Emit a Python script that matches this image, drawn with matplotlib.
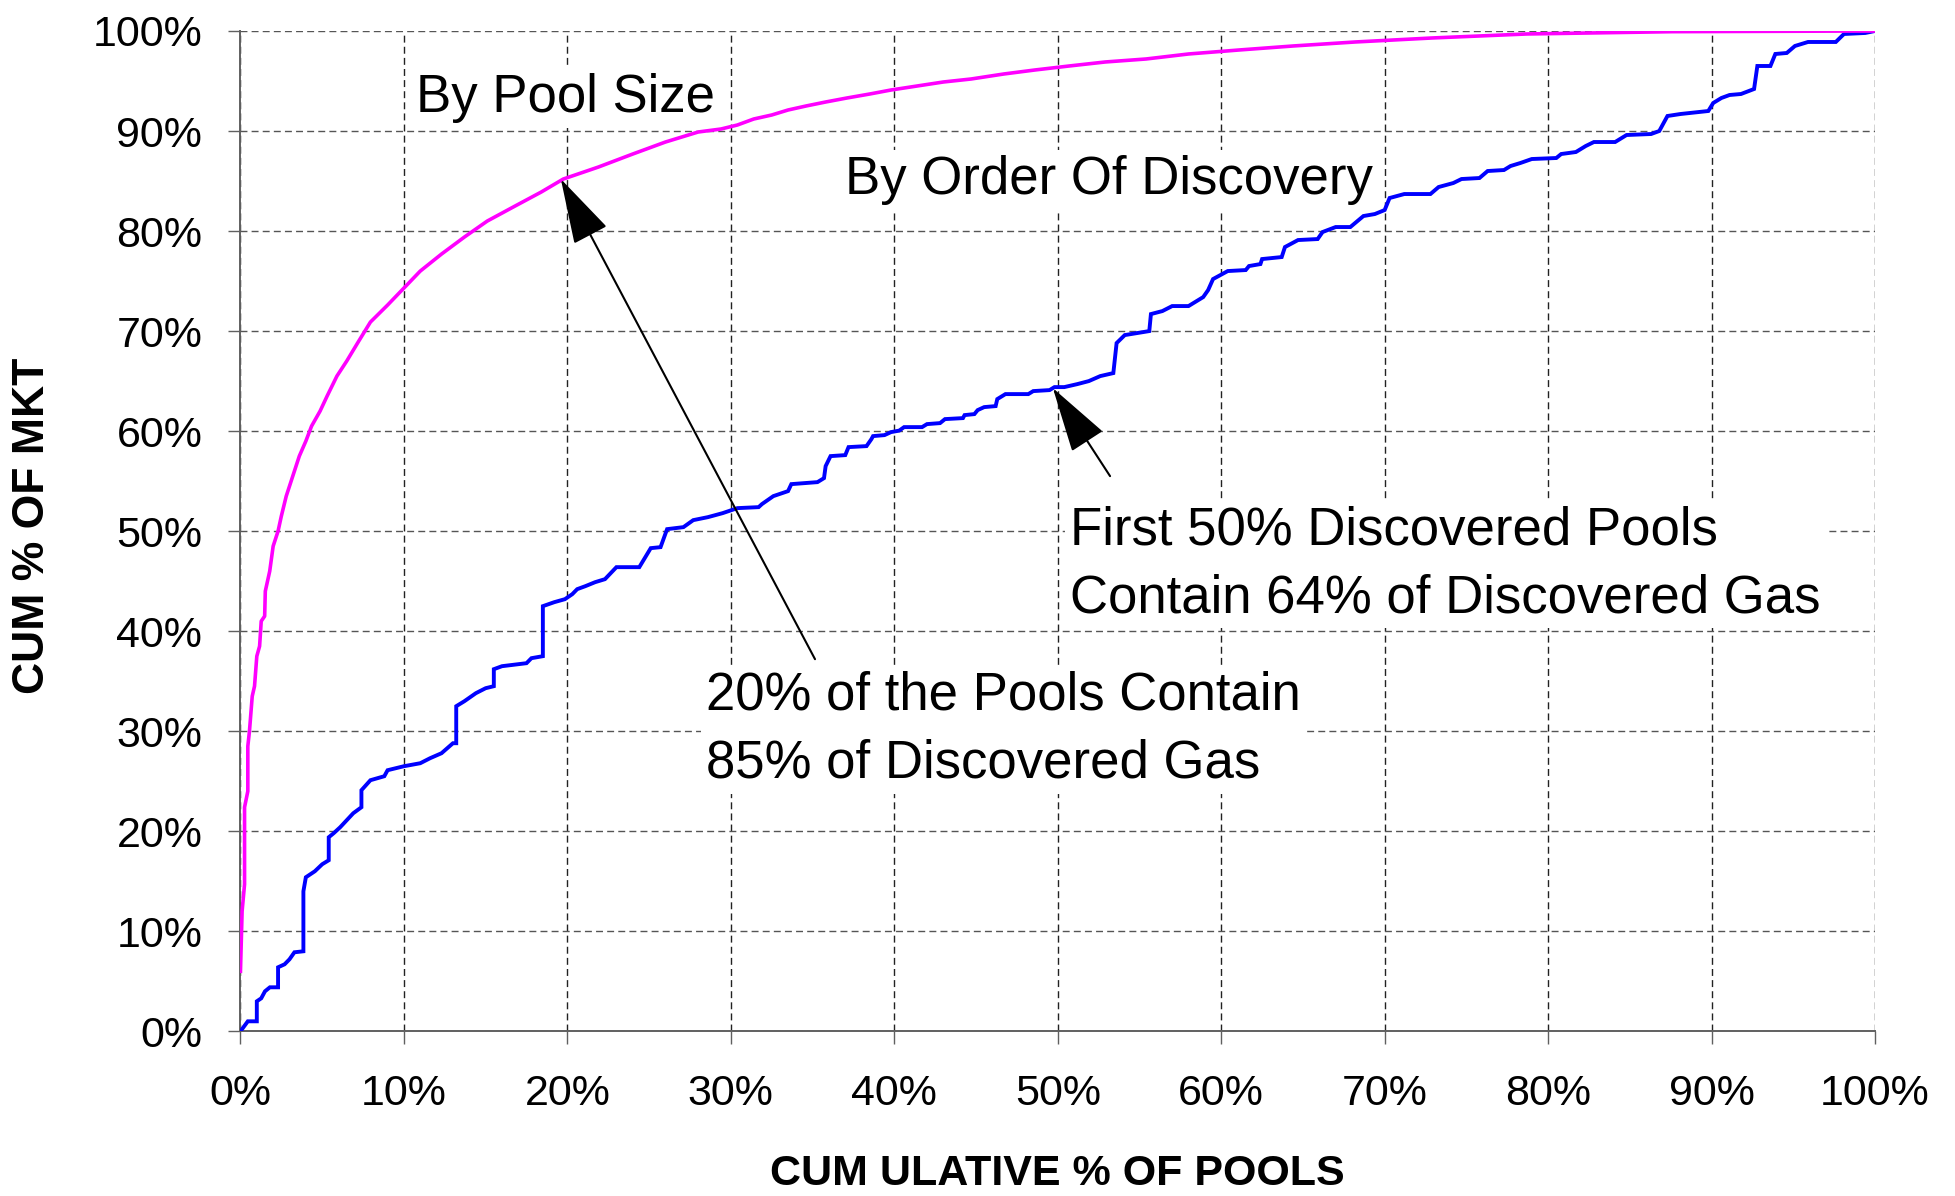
import matplotlib
matplotlib.use("Agg")
import matplotlib.pyplot as plt
from matplotlib.ticker import FuncFormatter

# cumulative % of pools vs cumulative % of market
pool_size_x = [0, 0.1, 0.25, 0.25, 0.45, 0.45, 0.55, 0.72, 0.86, 1.0, 1.17, 1.27, 1.48, 1.52,
               1.79, 2.0, 2.3, 2.5, 2.8, 3.1, 3.3, 3.6, 4.0, 4.35, 4.87, 5.3, 5.9, 6.5, 7.2,
               7.95, 9.0, 10.0, 11.0, 12.3, 13.7, 15.1, 16.8, 18.4, 19.75, 21.9, 24.0, 26.0,
               28.0, 29.4, 30.4, 31.4, 32.5, 33.5, 34.6, 35.8, 37.1, 38.5, 39.8, 41.4, 43.0,
               44.7, 46.7, 48.6, 50.7, 52.9, 55.4, 58.0, 61.1, 64.4, 68.2, 72.9, 78.7, 87.6,
               100]
pool_size_y = [6, 12, 14.7, 22.4, 24, 28.5, 30, 33.5, 34.5, 37.5, 38.5, 41, 41.5, 44, 46,
               48.5, 50, 51.5, 53.5, 55, 56, 57.5, 59, 60.5, 62, 63.5, 65.5, 67, 68.9, 70.9,
               72.6, 74.3, 76, 77.7, 79.4, 81, 82.5, 83.9, 85.2, 86.4, 87.7, 88.9, 89.9, 90.2,
               90.6, 91.2, 91.6, 92.1, 92.5, 92.9, 93.3, 93.7, 94.1, 94.5, 94.9, 95.2, 95.7,
               96.1, 96.5, 96.9, 97.2, 97.7, 98.1, 98.5, 98.9, 99.3, 99.7, 99.93, 100]

discovery_x = [0, 0.45, 1.0, 1.0, 1.27, 1.5, 1.8, 2.3, 2.3, 2.7, 3.0, 3.3, 3.85, 3.85, 4.0,
               4.55, 5.0, 5.4, 5.4, 5.7, 6.1, 6.5, 6.9, 7.4, 7.4, 7.95, 8.8, 9.0, 10.0, 11.0,
               11.6, 12.3, 13.0, 13.2, 13.2, 13.7, 14.4, 15.0, 15.5, 15.5, 16.0, 16.5, 17.5,
               17.8, 18.5, 18.5, 19.2, 19.85, 20.3, 20.6, 21.1, 21.7, 22.3, 23.0, 24.4, 25.1,
               25.7, 26.1, 27.1, 27.7, 28.6, 29.5, 30.4, 31.7, 31.9, 32.6, 33.5, 33.7, 35.3,
               35.7, 35.8, 36.1, 37.0, 37.2, 38.3, 38.6, 38.7, 39.4, 39.8, 40.3, 40.6, 41.7,
               42.0, 42.8, 43.1, 44.2, 44.3, 44.9, 45.1, 45.5, 46.2, 46.3, 46.8, 48.2, 48.5,
               49.5, 49.8, 50.4, 51.2, 51.9, 52.6, 53.4, 53.6, 54.1, 55.6, 55.7, 56.4, 57.0,
               58.0, 58.4, 58.9, 59.2, 59.5, 60.4, 61.5, 61.7, 62.4, 62.5, 63.7, 63.9, 64.7,
               65.9, 66.2, 67.0, 67.9, 68.7, 69.4, 70.0, 70.3, 71.2, 72.8, 73.3, 74.2, 74.7,
               75.8, 76.3, 77.3, 77.7, 78.3, 79.0, 80.5, 80.8, 81.7, 82.3, 82.8, 84.1, 84.8,
               86.3, 86.8, 87.3, 88.1, 89.8, 90.1, 90.6, 91.1, 91.8, 92.6, 92.8, 93.6, 93.9,
               94.6, 95.1, 95.9, 97.6, 98.1, 99.4, 100]
discovery_y = [0, 1.0, 1.0, 3.0, 3.3, 4.0, 4.4, 4.4, 6.4, 6.7, 7.2, 7.9, 8.0, 14.0, 15.4,
               16.0, 16.7, 17.1, 19.4, 19.8, 20.4, 21.1, 21.8, 22.4, 24.1, 25.1, 25.5, 26.1,
               26.5, 26.8, 27.3, 27.8, 28.8, 28.8, 32.5, 33.0, 33.8, 34.3, 34.5, 36.2, 36.5,
               36.6, 36.8, 37.3, 37.5, 42.5, 42.9, 43.2, 43.7, 44.2, 44.5, 44.9, 45.2, 46.4,
               46.4, 48.3, 48.4, 50.2, 50.4, 51.1, 51.4, 51.8, 52.3, 52.4, 52.7, 53.5, 54.0,
               54.7, 54.9, 55.3, 56.5, 57.5, 57.6, 58.4, 58.5, 59.2, 59.5, 59.6, 59.9, 60.05,
               60.4, 60.4, 60.7, 60.8, 61.2, 61.3, 61.6, 61.7, 62.1, 62.4, 62.5, 63.2, 63.7,
               63.7, 64.0, 64.1, 64.4, 64.4, 64.7, 65.0, 65.5, 65.8, 68.8, 69.6, 70.0, 71.7,
               72.0, 72.5, 72.5, 72.9, 73.4, 74.1, 75.2, 76.0, 76.1, 76.5, 76.7, 77.2, 77.4,
               78.4, 79.1, 79.2, 79.9, 80.4, 80.4, 81.5, 81.7, 82.1, 83.3, 83.7, 83.7, 84.4,
               84.8, 85.2, 85.3, 86.0, 86.1, 86.5, 86.8, 87.2, 87.3, 87.7, 87.9, 88.5, 88.9,
               88.9, 89.6, 89.7, 90.0, 91.5, 91.7, 92.0, 92.8, 93.3, 93.6, 93.7, 94.2, 96.5,
               96.5, 97.7, 97.8, 98.5, 98.9, 98.9, 99.7, 99.8, 100]

ticks = list(range(0, 101, 10))

plt.rcParams["font.family"] = ["Liberation Sans", "DejaVu Sans"]

fig = plt.figure(figsize=(19.55, 11.96), dpi=100)
ax = fig.add_axes([0.1230, 0.1377, 0.8361, 0.8364])

ax.plot(discovery_x, discovery_y, color="#0000FF", lw=2.8, solid_joinstyle="miter", zorder=3)
ax.plot(pool_size_x, pool_size_y, color="#FF00FF", lw=2.6, zorder=3)

ax.set_xlim(0, 100)
ax.set_ylim(0, 100)
ax.set_xticks(ticks)
ax.set_yticks(ticks)
pct = FuncFormatter(lambda v, pos: f"{v:.0f}%")
ax.xaxis.set_major_formatter(pct)
ax.yaxis.set_major_formatter(pct)

ax.xaxis.grid(True, color="#222222", linestyle=(0, (5, 3)), lw=1.0)
ax.yaxis.grid(True, color="#555555", linestyle=(0, (5, 3)), lw=1.0)
ax.set_axisbelow(True)

for side in ("top", "right"):
    ax.spines[side].set_visible(False)
for side in ("left", "bottom"):
    ax.spines[side].set_color("#606060")
    ax.spines[side].set_linewidth(1.4)

ax.tick_params(axis="both", direction="out", length=9, width=1.0, color="#606060",
               labelsize=31)
ax.tick_params(axis="x", pad=22)
ax.tick_params(axis="y", pad=18.5)

ax.set_xlabel("CUM ULATIVE % OF POOLS", fontsize=31, fontweight="bold")
ax.set_ylabel("CUM % OF MKT", fontsize=32, fontweight="bold")
ax.xaxis.label.set_va("center")
ax.yaxis.label.set_va("center")
ax.xaxis.set_label_coords(0.5, -0.143)
ax.yaxis.set_label_coords(-0.1273, 0.505)

# labels sit on white boxes that hide the grid, curves stay on top
box = dict(boxstyle="square,pad=0.1", facecolor="white", edgecolor="none")
label_kw = dict(fontsize=38, va="baseline", bbox=box, zorder=2)

ax.text(10.74, 91.9, "By Pool Size", **label_kw)
ax.text(36.98, 83.7, "By Order Of Discovery", **label_kw)
# va="baseline" on multi-line text pins the last line's baseline
ax.text(28.48, 25.4, "20% of the Pools Contain\n85% of Discovered Gas",
        linespacing=1.46, **label_kw)
ax.text(50.75, 41.9, "First 50% Discovered Pools\nContain 64% of Discovered Gas",
        linespacing=1.46, **label_kw)

arrow = dict(arrowstyle="-|>,head_length=2.1,head_width=0.6", mutation_scale=20,
             lw=1.5, color="black", shrinkA=0, shrinkB=0)
ax.annotate("", xy=(19.6, 85.2), xytext=(35.15, 37.2), arrowprops=arrow, zorder=4)
ax.annotate("", xy=(49.7, 64.3), xytext=(53.2, 55.5), arrowprops=arrow, zorder=4)

fig.savefig("out.png", dpi=100)
